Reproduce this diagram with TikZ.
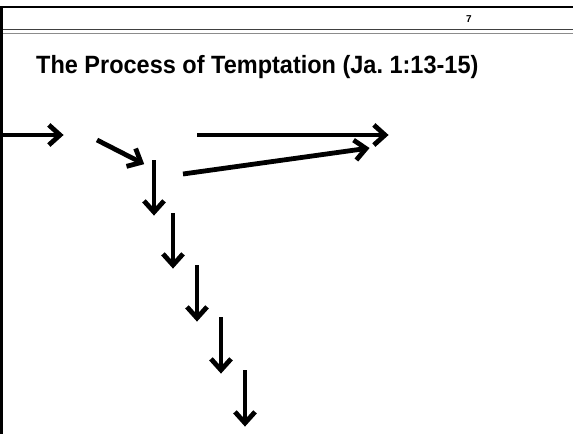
\documentclass[tikz,border=0pt]{standalone}
\usepackage{fontspec}
\setmainfont{Liberation Sans}
\usetikzlibrary{calc}
\newcommand{\arro}[2]{%
  \draw[arr] (#1) -- ($(#2)!3pt!(#1)$);
  \draw[arr, line join=miter] ($(#2)!15pt!42:(#1)$) -- (#2) -- ($(#2)!15pt!-42:(#1)$);}
\begin{document}
\begin{tikzpicture}[x=1pt,y=-1pt,
  arr/.style={line width=4.8pt, line cap=butt},
  frame/.style={line width=2.5pt, black},
  rule1/.style={line width=1.5pt, black!75},
  rule2/.style={line width=1.5pt, black!45}]
\useasboundingbox (0,0) rectangle (573,434);
% frame
\coordinate (tl) at (1.5,7);
\coordinate (tr) at (573,7);
\coordinate (bl) at (1.5,434);
\draw[frame] (0,7) -- (tr);
\draw[frame] (tl) -- (bl);
\coordinate (r1l) at (3,29.5); \coordinate (r1r) at (573,29.5);
\coordinate (r2l) at (3,33.5); \coordinate (r2r) at (573,33.5);
\draw[rule1] (r1l) -- (r1r);
\draw[rule2] (r2l) -- (r2r);
\node[anchor=base, font=\bfseries\fontsize{10}{12}\selectfont, inner sep=0] (pg) at (469,22) {7};
\node[anchor=base west, font=\bfseries\fontsize{25}{29}\selectfont, inner sep=0, xscale=0.94] (title) at (36,73) {\frenchspacing The Process of Temptation (Ja.\ 1:13-15)};
% arrows (tips placed slightly inside the visual tip to allow for the miter)
\coordinate (a1s) at (3,135);   \coordinate (a1e) at (60,135);
\coordinate (a2s) at (97,140);  \coordinate (a2e) at (141,162.5);
\coordinate (a3s) at (197,135); \coordinate (a3e) at (385,135);
\coordinate (a4s) at (183,174); \coordinate (a4e) at (366,148.5);
\coordinate (v1s) at (154,160); \coordinate (v1e) at (154,212);
\coordinate (v2s) at (173,213); \coordinate (v2e) at (173,265);
\coordinate (v3s) at (197,265); \coordinate (v3e) at (197,318);
\coordinate (v4s) at (221,317); \coordinate (v4e) at (221,370);
\coordinate (v5s) at (245,370); \coordinate (v5e) at (245,423);
\arro{a1s}{a1e}
\arro{a2s}{a2e}
\arro{a3s}{a3e}
\arro{a4s}{a4e}
\arro{v1s}{v1e}
\arro{v2s}{v2e}
\arro{v3s}{v3e}
\arro{v4s}{v4e}
\arro{v5s}{v5e}
\end{tikzpicture}
\end{document}
